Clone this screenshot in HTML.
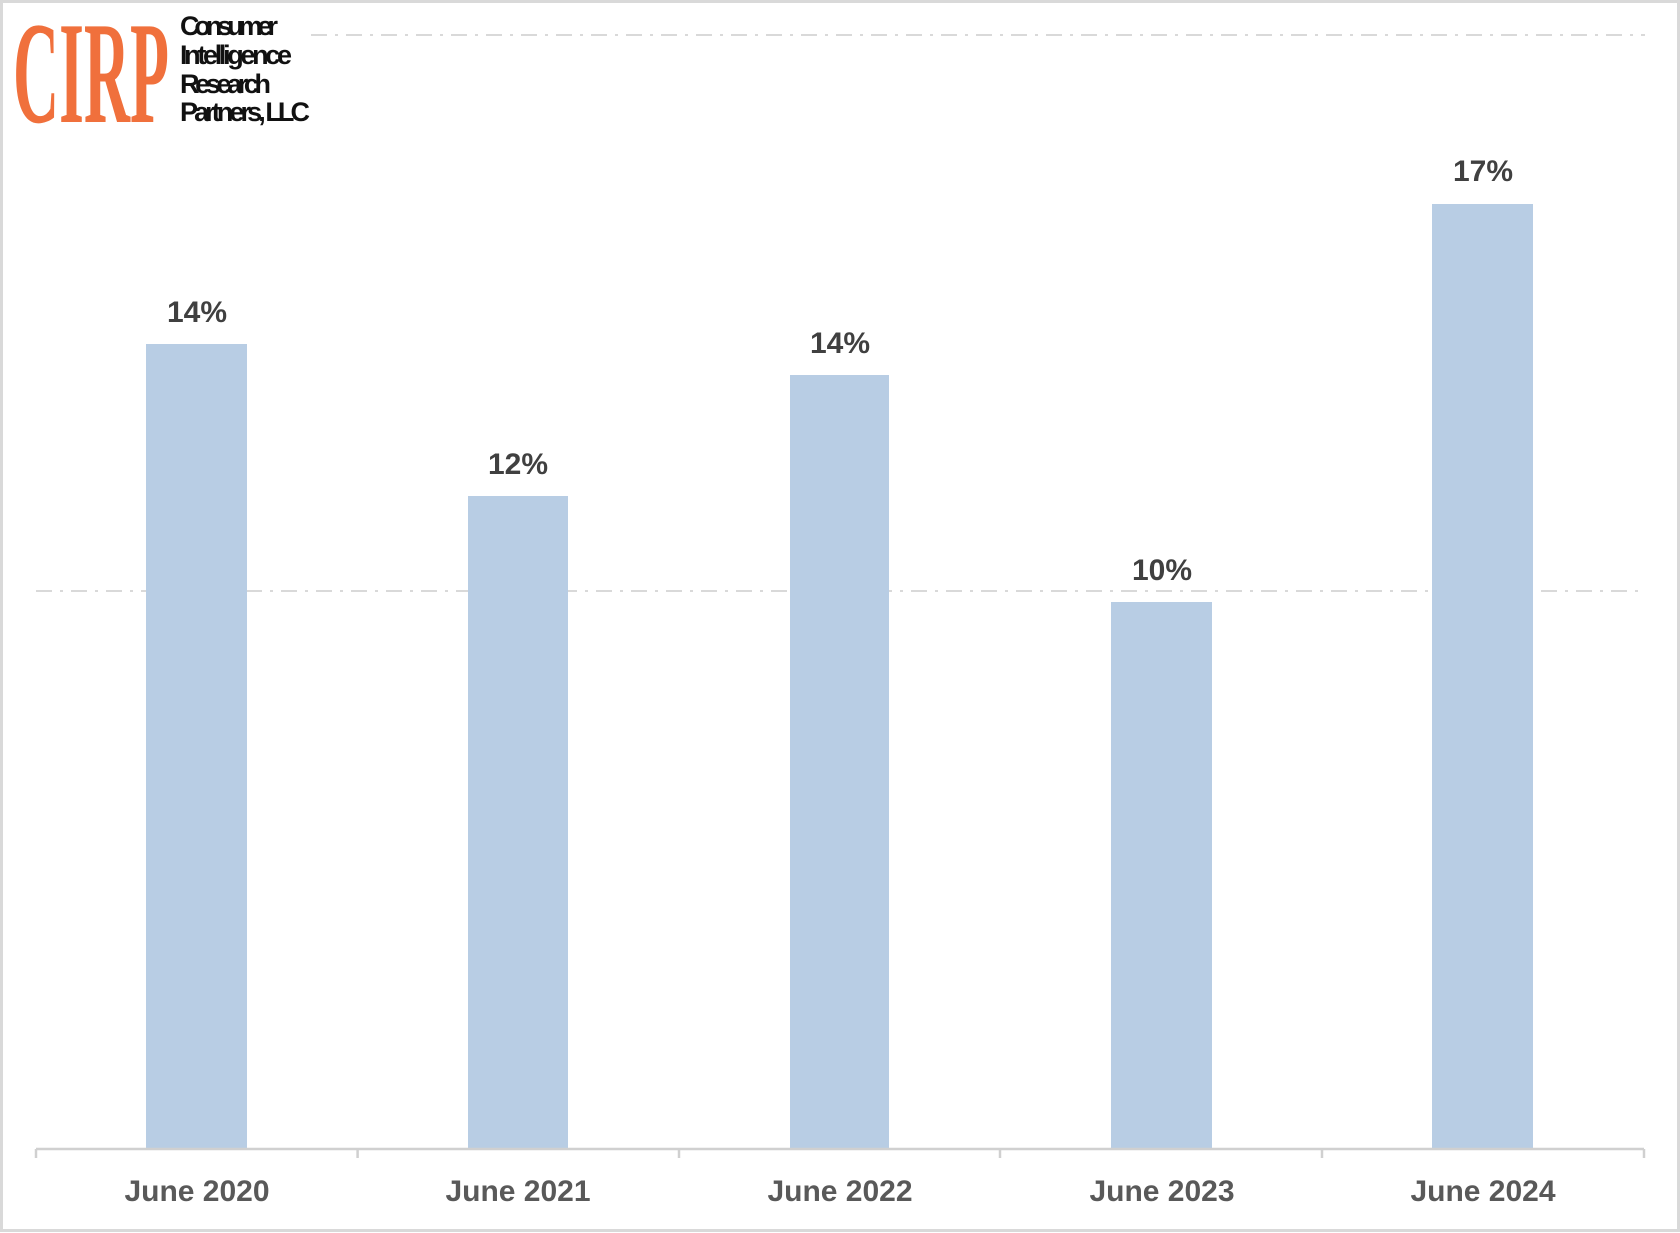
<!DOCTYPE html>
<html><head><meta charset="utf-8"><style>
html,body{margin:0;padding:0;background:#fff}
svg{display:block}
</style></head><body>
<svg width="1680" height="1233" viewBox="0 0 1680 1233" xmlns="http://www.w3.org/2000/svg">
<rect x="1.5" y="1.5" width="1677" height="1229" fill="#fff" stroke="#d9d9d9" stroke-width="3"/>
<g stroke="#d9d9d9" stroke-width="2" stroke-dasharray="16,8,3,8" fill="none">
<line x1="311" y1="35" x2="1645" y2="35"/>
<line x1="36" y1="591" x2="1645" y2="591"/>
</g>
<g fill="#b8cde4">
<rect x="146" y="344" width="101" height="804"/>
<rect x="468" y="496" width="100" height="652"/>
<rect x="790" y="375" width="99" height="773"/>
<rect x="1111" y="602" width="101" height="546"/>
<rect x="1432" y="204" width="101" height="944"/>
</g>
<g stroke="#d0d0d0" stroke-width="2.5" fill="none">
<line x1="36" y1="1149" x2="1644" y2="1149"/>
<line x1="36" y1="1149" x2="36" y2="1158"/>
<line x1="357.6" y1="1149" x2="357.6" y2="1158"/>
<line x1="679" y1="1149" x2="679" y2="1158"/>
<line x1="1000" y1="1149" x2="1000" y2="1158"/>
<line x1="1322" y1="1149" x2="1322" y2="1158"/>
<line x1="1644" y1="1149" x2="1644" y2="1158"/>
</g>
<g font-family="Liberation Sans, sans-serif" font-weight="bold" font-size="30" fill="#404040" text-anchor="middle">
<text x="197" y="322">14%</text>
<text x="518" y="474">12%</text>
<text x="840" y="353">14%</text>
<text x="1162" y="580">10%</text>
<text x="1483" y="181">17%</text>
</g>
<g font-family="Liberation Sans, sans-serif" font-weight="bold" font-size="30" fill="#595959" text-anchor="middle">
<text x="197" y="1201">June 2020</text>
<text x="518" y="1201">June 2021</text>
<text x="840" y="1201">June 2022</text>
<text x="1162" y="1201">June 2023</text>
<text x="1483" y="1201">June 2024</text>
</g>
<text x="13" y="122" font-family="Liberation Serif, serif" font-weight="bold" font-size="146" fill="#f0703c" textLength="156" lengthAdjust="spacingAndGlyphs">CIRP</text>
<g font-family="Liberation Sans, sans-serif" font-weight="bold" font-size="27" fill="#111" lengthAdjust="spacingAndGlyphs">
<text x="180" y="35" textLength="98">Consumer</text>
<text x="180" y="64" textLength="112">Intelligence</text>
<text x="180" y="93" textLength="91">Research</text>
<text x="180" y="121" textLength="130">Partners, LLC</text>
</g>
</svg>
</body></html>
